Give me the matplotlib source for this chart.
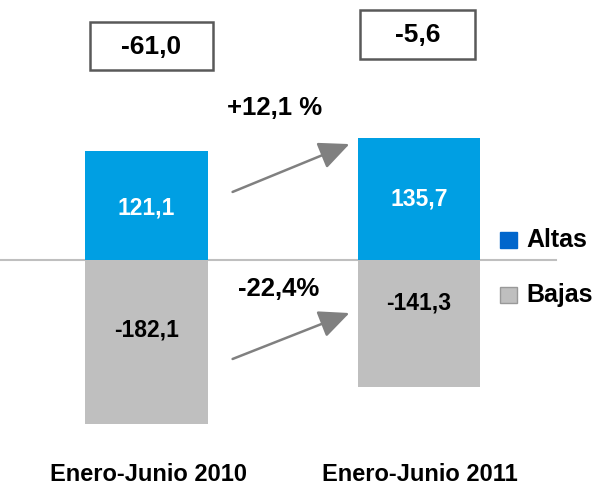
import matplotlib
matplotlib.use("Agg")
import matplotlib.pyplot as plt
from matplotlib.patches import Rectangle, FancyArrowPatch

plt.rcParams['font.family'] = ['Liberation Sans', 'DejaVu Sans']
plt.rcParams['font.weight'] = 'bold'

# datos (miles)
periodos = ['Enero-Junio 2010', 'Enero-Junio 2011']
altas = [121.1, 135.7]
bajas = [-182.1, -141.3]
saldo = [-61.0, -5.6]
var_altas = '+12,1 %'
var_bajas = '-22,4%'

AZUL = '#009FE3'
GRIS = '#BFBFBF'
W, H = 598, 486


def fmt(v):
    return f'{v:.1f}'.replace('.', ',')


def px(x, y):
    # pixeles -> fraccion de figura
    return x / W, 1 - y / H


fig = plt.figure(figsize=(W / 100, H / 100), dpi=100)
ax = fig.add_axes([0, 0, 1, 1])
ax.set_xlim(-0.5376, 1.657)
ax.set_ylim(-251.1, 288.9)
ax.axis('off')

x = [0, 1]
ancho = 0.451
ax.bar(x, altas, width=ancho, color=AZUL, zorder=2)
ax.bar(x, bajas, width=ancho, color=GRIS, zorder=2)
ax.axhline(0, xmin=0, xmax=0.93, color='#BFBFBF', lw=1.5, zorder=1)

# desplazamiento vertical de las etiquetas de bajas
desp_bajas = [13, 23]
desp_altas = [-3, 0]
for i in x:
    ax.text(i, altas[i] / 2 + desp_altas[i], fmt(altas[i]), ha='center', va='center',
            color='white', fontsize=16.5, fontweight='bold', zorder=3)
    ax.text(i, bajas[i] / 2 + desp_bajas[i], fmt(bajas[i]), ha='center', va='center',
            color='black', fontsize=16.5, fontweight='bold', zorder=3)

# cajas con el saldo
cajas = [(90, 22, 123, 48), (360, 10, 115, 49)]
for (bx, by, bw, bh), s in zip(cajas, saldo):
    x0, y0 = px(bx, by + bh)
    fig.patches.append(Rectangle((x0, y0), bw / W, bh / H, transform=fig.transFigure,
                                 fill=False, ec='#595959', lw=1.8))
    fig.text(*px(bx + bw / 2, by + bh / 2 + 1), fmt(s), ha='center', va='center',
             fontsize=19, fontweight='bold')

# flechas de variacion
for (x1, y1, x2, y2) in [(230, 193, 352, 143), (230, 360, 352, 312)]:
    fig.add_artist(FancyArrowPatch(
        px(x1, y1), px(x2, y2), transform=fig.transFigure,
        arrowstyle='-|>,head_length=11,head_width=5', mutation_scale=1.7,
        color='#808080', lw=1.8))

fig.text(*px(275, 108), var_altas, ha='center', va='center', fontsize=18.5, fontweight='bold')
fig.text(*px(279, 289), var_bajas, ha='center', va='center', fontsize=18.5, fontweight='bold')

# leyenda
for (ly, lab, fc, ec) in [(240, 'Altas', '#0066CC', '#0066CC'), (295, 'Bajas', GRIS, '#999999')]:
    x0, y0 = px(500, ly + 8)
    fig.patches.append(Rectangle((x0, y0), 17 / W, 16 / H, transform=fig.transFigure,
                                 fc=fc, ec=ec, lw=1))
    fig.text(*px(526, ly), lab, ha='left', va='center', fontsize=18, fontweight='bold')

# etiquetas de categoria
for i, p in enumerate(periodos):
    fig.text(*px([148, 420][i], 474), p, ha='center', va='center', fontsize=17, fontweight='bold')

fig.savefig('out.png', dpi=100)
